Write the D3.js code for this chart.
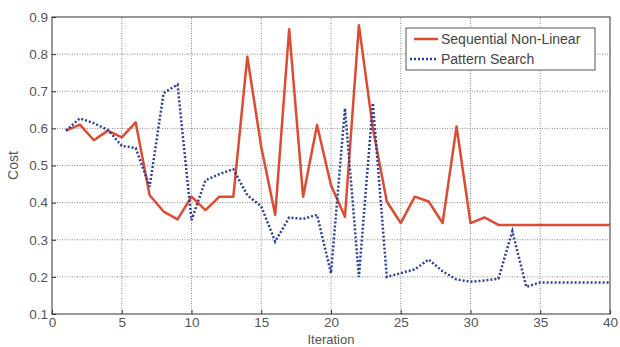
<!DOCTYPE html>
<html>
<head>
<meta charset="utf-8">
<script src="https://cdn.jsdelivr.net/npm/d3@7"></script>
<style>
  body { margin: 0; background: #fff; }
  svg text { font-family: "Liberation Sans", Arial, sans-serif; }
</style>
</head>
<body>
<div id="chart"></div>
<script>
// iteration numbers 1..40
const iterations = [1,2,3,4,5,6,7,8,9,10,11,12,13,14,15,16,17,18,19,20,
                    21,22,23,24,25,26,27,28,29,30,31,32,33,34,35,36,37,38,39,40];

const sequential = [0.594,0.61,0.568,0.594,0.576,0.616,0.42,0.376,0.355,0.416,
                    0.38,0.416,0.416,0.793,0.55,0.367,0.867,0.416,0.609,0.447,
                    0.362,0.878,0.6,0.403,0.345,0.416,0.403,0.345,0.605,0.345,
                    0.36,0.34,0.34,0.34,0.34,0.34,0.34,0.34,0.34,0.34];

const pattern = [0.594,0.627,0.614,0.596,0.553,0.547,0.443,0.695,0.718,0.353,
                 0.46,0.477,0.49,0.42,0.39,0.295,0.36,0.356,0.367,0.21,
                 0.654,0.2,0.668,0.2,0.21,0.22,0.247,0.215,0.193,0.187,
                 0.19,0.195,0.323,0.173,0.185,0.185,0.185,0.185,0.185,0.185];

const xTicks = [0,5,10,15,20,25,30,35,40];
const yTicks = [0.1,0.2,0.3,0.4,0.5,0.6,0.7,0.8,0.9];
const seriesNames = ["Sequential Non-Linear", "Pattern Search"];

var width = 620, height = 347;
var margin = {top: 17, right: 10, bottom: 33, left: 52};

var svg = d3.select("#chart").append("svg")
    .attr("width", width)
    .attr("height", height);

var x = d3.scaleLinear().domain([0, 40]).range([margin.left, width - margin.right]);
var y = d3.scaleLinear().domain([0.1, 0.9]).range([height - margin.bottom, margin.top]);

// grid
svg.append("g")
    .selectAll("line.vg")
    .data(xTicks.slice(1, -1))
    .enter().append("line")
    .attr("x1", d => x(d)).attr("x2", d => x(d))
    .attr("y1", y(0.1)).attr("y2", y(0.9))
    .attr("stroke", "#888").attr("stroke-width", 1)
    .attr("stroke-dasharray", "1,1.5");

svg.append("g")
    .selectAll("line.hg")
    .data(yTicks.slice(1, -1))
    .enter().append("line")
    .attr("x1", x(0)).attr("x2", x(40))
    .attr("y1", d => y(d)).attr("y2", d => y(d))
    .attr("stroke", "#888").attr("stroke-width", 1)
    .attr("stroke-dasharray", "1,1.5");

// axes
var xAxis = svg.append("g")
    .attr("transform", "translate(0," + y(0.1) + ")")
    .call(d3.axisBottom(x).tickValues(xTicks).tickSize(-4).tickPadding(3).tickFormat(d3.format("d")));
var yAxis = svg.append("g")
    .attr("transform", "translate(" + x(0) + ",0)")
    .call(d3.axisLeft(y).tickValues(yTicks).tickSize(-4).tickPadding(4).tickFormat(d3.format(".1f")));

[xAxis, yAxis].forEach(a => {
    a.select(".domain").remove();
    a.selectAll("line").attr("stroke", "#333");
    a.selectAll("text").attr("fill", "#555").style("font-size", "13.5px");
});

// frame
svg.append("rect")
    .attr("x", x(0)).attr("y", y(0.9))
    .attr("width", x(40) - x(0)).attr("height", y(0.1) - y(0.9))
    .attr("fill", "none").attr("stroke", "#333").attr("stroke-width", 1);

var line = d3.line()
    .x((d, i) => x(iterations[i]))
    .y(d => y(d));

svg.append("path")
    .datum(sequential)
    .attr("d", line)
    .attr("fill", "none")
    .attr("stroke", "#dd4b33")
    .attr("stroke-width", 2.5)
    .attr("stroke-linejoin", "round");

svg.append("path")
    .datum(pattern)
    .attr("d", line)
    .attr("fill", "none")
    .attr("stroke", "#2b3f9e")
    .attr("stroke-width", 2.5)
    .attr("stroke-dasharray", "2,2");

// labels
svg.append("text")
    .attr("x", (x(0) + x(40)) / 2).attr("y", 344)
    .attr("text-anchor", "middle")
    .attr("fill", "#555").style("font-size", "13px")
    .text("Iteration");

svg.append("text")
    .attr("transform", "translate(18," + y(0.5) + ") rotate(-90)")
    .attr("text-anchor", "middle")
    .attr("fill", "#555").style("font-size", "14px")
    .text("Cost");

// legend
var lg = svg.append("g").attr("transform", "translate(406,28)");
lg.append("rect")
    .attr("width", 189).attr("height", 42)
    .attr("fill", "#fff").attr("stroke", "#555").attr("stroke-width", 1);
lg.append("line").attr("x1", 8).attr("x2", 32).attr("y1", 11).attr("y2", 11)
    .attr("stroke", "#dd4b33").attr("stroke-width", 2.5);
lg.append("line").attr("x1", 4).attr("x2", 32).attr("y1", 31).attr("y2", 31)
    .attr("stroke", "#2b3f9e").attr("stroke-width", 2.5).attr("stroke-dasharray", "2,2");
lg.selectAll("text.leg")
    .data(seriesNames)
    .enter().append("text")
    .attr("x", 35).attr("y", (d, i) => 16 + i * 20)
    .attr("fill", "#444").style("font-size", "14px")
    .text(d => d);
</script>
</body>
</html>
